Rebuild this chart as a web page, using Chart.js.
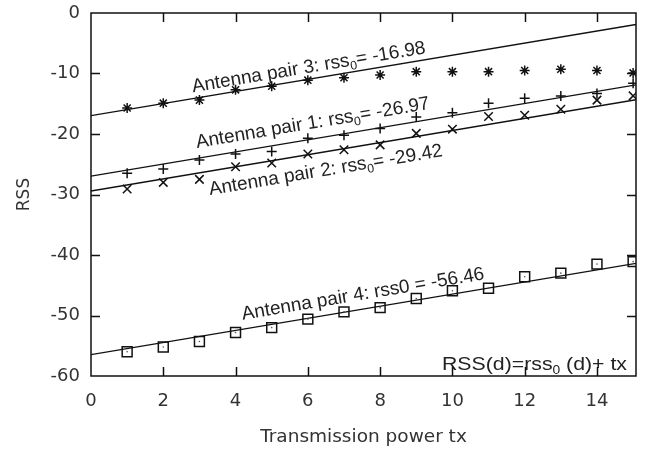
<!DOCTYPE html>
<html><head><meta charset="utf-8">
<script src="https://cdn.jsdelivr.net/npm/chart.js@4.4.0/dist/chart.umd.min.js"></script>
<style>html,body{margin:0;padding:0;background:#fff}#wrap{width:649px;height:452px}</style>
</head><body><div id="wrap"><canvas id="c" width="649" height="452"></canvas></div>
<script>
// ---- data ----
const txPower = [1,2,3,4,5,6,7,8,9,10,11,12,13,14,15];
const pair1 = [-26.5,-25.8,-24.3,-23.3,-22.9,-20.7,-20.2,-19.1,-17.2,-16.5,-14.9,-14.1,-13.7,-13.3,-11.6];
const pair2 = [-29.1,-28.0,-27.5,-25.4,-24.8,-23.3,-22.6,-21.8,-19.9,-19.2,-17.1,-16.9,-15.9,-14.4,-13.7];
const pair3 = [-15.7,-14.9,-14.4,-12.7,-12.1,-11.1,-10.7,-10.25,-9.7,-9.7,-9.7,-9.5,-9.3,-9.5,-9.9];
const pair4 = [-56.0,-55.2,-54.3,-52.8,-52.0,-50.6,-49.4,-48.7,-47.2,-45.9,-45.5,-43.6,-43.0,-41.5,-41.1];
const rss0 = [-26.97,-29.42,-16.98,-56.46];   // fitted intercepts, RSS = rss0 + tx
const pairNames = ['Antenna pair 1','Antenna pair 2','Antenna pair 3','Antenna pair 4'];
const xTicks = [0,2,4,6,8,10,12,14];
const yTicks = [-60,-50,-40,-30,-20,-10,0];
const xRange = [0,15.08];
const yRange = [-60,0];

// ---- build ----
const pts = arr => txPower.map((x,i)=>({x, y:arr[i]}));
const fit = r => [{x:xRange[0], y:r+xRange[0]},{x:xRange[1], y:r+xRange[1]}];
const markerStyles = [
  {s:'cross', r:5}, {s:'crossRot', r:6}, {s:'star', r:5}, {s:'rect', r:7}
];
const series = [pair1,pair2,pair3,pair4];
const datasets = [];
series.forEach((arr,i)=>{
  datasets.push({label:pairNames[i], data:pts(arr), pointStyle:markerStyles[i].s, pointRadius:markerStyles[i].r,
    pointBorderColor:'#111', pointBackgroundColor:'rgba(0,0,0,0)', pointBorderWidth:1.5, showLine:false});
});
// centre dots of the square markers
datasets.push({label:'dots', data:pts(pair4), pointStyle:'circle', pointRadius:0.8, pointBorderWidth:0,
  pointBackgroundColor:'#555', showLine:false});
rss0.forEach((r,i)=>{
  datasets.push({label:'fit'+(i+1), data:fit(r), showLine:true, pointRadius:0, borderColor:'#111', borderWidth:1.3, fill:false});
});

// annotation layout (data-space anchors for the label baselines)
const notes = [
  {parts:[['Antenna pair 3: rss',0],['0',1],['= -16.98',0]], x:2.82, y:-13.1},
  {parts:[['Antenna pair 1: rss',0],['0',1],['= -26.97',0]], x:2.93, y:-22.3},
  {parts:[['Antenna pair 2: rss',0],['0',1],['= -29.42',0]], x:3.29, y:-30.1},
  {parts:[['Antenna pair 4: rss0 = -56.46',0]], x:4.2, y:-50.7}
];
const FONT = '"Liberation Sans", Arial, sans-serif';

function drawParts(ctx, parts, size){
  let cx = 0;
  parts.forEach(([t,sub])=>{
    if (sub){ ctx.font = (size*0.65)+'px '+FONT; ctx.fillText(t, cx, size*0.22); }
    else { ctx.font = size+'px '+FONT; ctx.fillText(t, cx, 0); }
    cx += ctx.measureText(t).width;
  });
  return cx;
}
function partsWidth(ctx, parts, size){
  let w=0; parts.forEach(([t,sub])=>{ctx.font=(sub?size*0.65:size)+'px '+FONT; w+=ctx.measureText(t).width;}); return w;
}

const overlay = {
  id:'overlay',
  afterDatasetsDraw(chart){
    const {ctx, chartArea:a, scales:{x,y}} = chart;
    ctx.save();
    const ang = Math.atan2(y.getPixelForValue(1)-y.getPixelForValue(0), x.getPixelForValue(1)-x.getPixelForValue(0));
    ctx.fillStyle = '#222'; ctx.textBaseline='alphabetic'; ctx.textAlign='left';
    notes.forEach(n=>{
      ctx.save();
      ctx.translate(x.getPixelForValue(n.x), y.getPixelForValue(n.y));
      ctx.rotate(ang);
      drawParts(ctx, n.parts, 19);
      ctx.restore();
    });
    // formula
    const f = [['RSS(d)=rss',0],['0',1],[' (d)+ tx',0]];
    const sx = 1.15;
    const w = partsWidth(ctx, f, 18.5)*sx;
    ctx.save(); ctx.translate(a.right-9-w, a.bottom-6); ctx.scale(sx,1); drawParts(ctx, f, 18.5); ctx.restore();
    // frame and inward ticks
    ctx.strokeStyle='#111'; ctx.lineWidth=1.5;
    ctx.strokeRect(a.left, a.top, a.right-a.left, a.bottom-a.top);
    const L = 9;
    ctx.beginPath();
    x.ticks.forEach(t=>{const p=Math.round(x.getPixelForValue(t.value))+0.5; if(p<a.left+2||p>a.right-2) return;
      ctx.moveTo(p,a.bottom); ctx.lineTo(p,a.bottom-L); ctx.moveTo(p,a.top); ctx.lineTo(p,a.top+L);});
    y.ticks.forEach(t=>{const p=Math.round(y.getPixelForValue(t.value))+0.5; if(p<a.top+2||p>a.bottom-2) return;
      ctx.moveTo(a.left,p); ctx.lineTo(a.left+L,p); ctx.moveTo(a.right,p); ctx.lineTo(a.right-L,p);});
    ctx.stroke();
    ctx.restore();
  }
};

const tickFont = {family:'"DejaVu Sans", sans-serif', size:18};
new Chart(document.getElementById('c'), {
  type:'scatter',
  data:{datasets},
  options:{
    responsive:false, animation:false, devicePixelRatio:1,
    layout:{padding:{left:0, top:13, right:13, bottom:0}},
    plugins:{legend:{display:false}, tooltip:{enabled:false}},
    scales:{
      x:{type:'linear', min:xRange[0], max:xRange[1],
        afterBuildTicks:s=>{s.ticks = xTicks.map(v=>({value:v}));},
        afterFit:s=>{s.height = 76; s.paddingLeft = 0; s.paddingRight = 0;},
        grid:{display:false, drawTicks:false}, border:{display:false},
        ticks:{font:tickFont, color:'#333', padding:15, maxRotation:0, autoSkip:false},
        title:{display:true, text:'Transmission power tx', font:{family:'"DejaVu Sans", sans-serif', size:18.5}, color:'#333', padding:{top:0,bottom:4}}
      },
      y:{type:'linear', min:yRange[0], max:yRange[1],
        afterBuildTicks:s=>{s.ticks = yTicks.map(v=>({value:v}));},
        afterFit:s=>{s.width = 91; s.paddingTop = 0; s.paddingBottom = 0;},
        grid:{display:false, drawTicks:false}, border:{display:false},
        ticks:{font:tickFont, color:'#333', padding:11, autoSkip:false},
        title:{display:true, text:'RSS', font:{family:'"DejaVu Sans", sans-serif', size:17}, color:'#333', padding:{top:14,bottom:0}}
      }
    }
  },
  plugins:[overlay]
});
</script></body></html>
